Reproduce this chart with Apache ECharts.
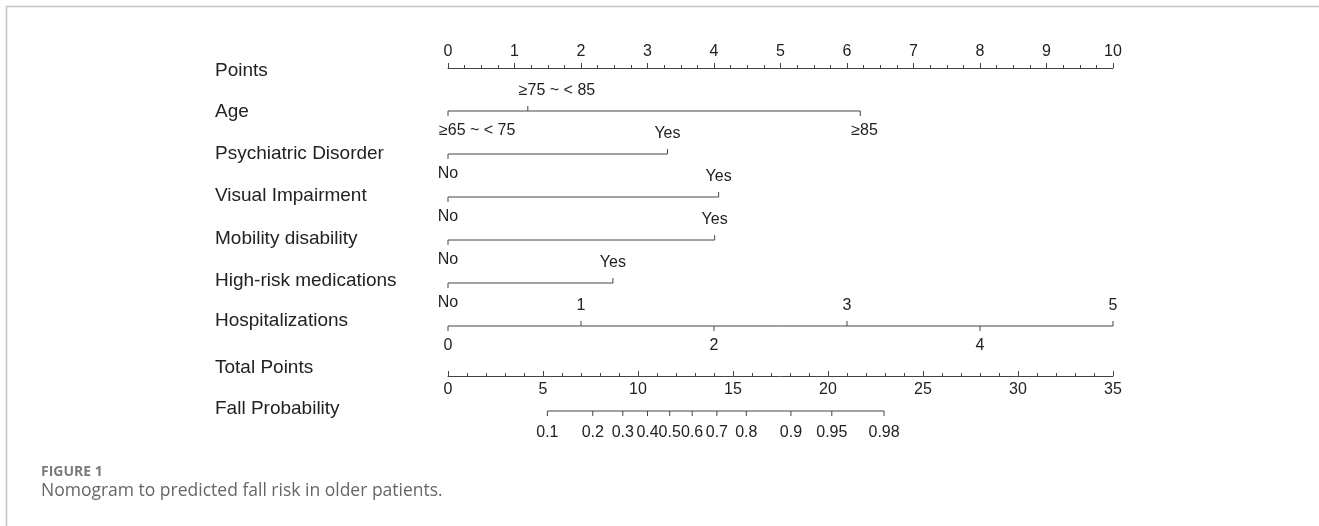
<!DOCTYPE html>
<html>
<head>
<meta charset="utf-8">
<style>
  html, body { margin: 0; padding: 0; background: #fff; }
  #chart { width: 1319px; height: 526px; }
</style>
<script src="https://cdn.jsdelivr.net/npm/echarts@6.0.0/dist/echarts.min.js"></script>
</head>
<body>
<div id="chart"></div>
<script>
// values (points scale 0-10)
var rowNames = ['Points', 'Age', 'Psychiatric Disorder', 'Visual Impairment', 'Mobility disability',
  'High-risk medications', 'Hospitalizations', 'Total Points', 'Fall Probability'];

var ageLevels = ['≥65 ~ < 75', '≥75 ~ < 85', '≥85'];
var agePoints = [0, 1.2, 6.2];
var psychLevels = ['No', 'Yes'];
var psychPoints = [0, 3.3];
var visualLevels = ['No', 'Yes'];
var visualPoints = [0, 4.07];
var mobilityLevels = ['No', 'Yes'];
var mobilityPoints = [0, 4.01];
var medsLevels = ['No', 'Yes'];
var medsPoints = [0, 2.48];
var hospLevels = ['0', '1', '2', '3', '4', '5'];
var hospPoints = [0, 2, 4, 6, 8, 10];

// fall probability ticks, placed on the total points scale
var probLabels = ['0.1', '0.2', '0.3', '0.4', '0.5', '0.6', '0.7', '0.8', '0.9', '0.95', '0.98'];
var probTotal = [5.23, 7.62, 9.2, 10.5, 11.67, 12.85, 14.15, 15.7, 18.05, 20.2, 22.95];

var factorRows = [
  { levels: ageLevels, points: agePoints, align: 'left' },
  { levels: psychLevels, points: psychPoints },
  { levels: visualLevels, points: visualPoints },
  { levels: mobilityLevels, points: mobilityPoints },
  { levels: medsLevels, points: medsPoints },
  { levels: hospLevels, points: hospPoints }
];

var lineColor = '#444';
var textColor = '#222';
var font = '"Liberation Sans", Arial, sans-serif';

var myChart = echarts.init(document.getElementById('chart'));

function txt(x, y, s, align) {
  return {
    type: 'text', x: x, y: y, silent: true,
    style: { text: s, fill: textColor, font: '16px ' + font, align: align || 'center', verticalAlign: 'middle' }
  };
}

function renderFactor(params, api) {
  var row = factorRows[params.dataIndex];
  var r = api.value(1);
  var pts = row.points;
  var p0 = api.coord([pts[0], r]);
  var p1 = api.coord([pts[pts.length - 1], r]);
  var children = [{
    type: 'line', shape: { x1: p0[0], y1: p0[1], x2: p1[0], y2: p1[1] },
    style: { stroke: lineColor, lineWidth: 1 }
  }];
  for (var i = 0; i < pts.length; i++) {
    var c = api.coord([pts[i], r]);
    var dir = i % 2 === 1 ? -1 : 1; // alternate: below / above
    children.push({
      type: 'line', shape: { x1: c[0], y1: c[1], x2: c[0], y2: c[1] + dir * 5 },
      style: { stroke: lineColor, lineWidth: 1 }
    });
    if (row.align === 'left') {
      children.push(txt(c[0] - 9, c[1] + dir * 20, row.levels[i], 'left'));
    } else {
      children.push(txt(c[0], c[1] + dir * 20, row.levels[i]));
    }
  }
  return { type: 'group', children: children };
}

function renderProb(params, api) {
  var a = api.coord([probTotal[0], 0]);
  var b = api.coord([probTotal[probTotal.length - 1], 0]);
  var children = [{
    type: 'line', shape: { x1: a[0], y1: a[1], x2: b[0], y2: b[1] },
    style: { stroke: lineColor, lineWidth: 1 }
  }];
  for (var i = 0; i < probTotal.length; i++) {
    var c = api.coord([probTotal[i], 0]);
    children.push({
      type: 'line', shape: { x1: c[0], y1: c[1], x2: c[0], y2: c[1] + 5 },
      style: { stroke: lineColor, lineWidth: 1 }
    });
    children.push(txt(c[0], c[1] + 22, probLabels[i]));
  }
  return { type: 'group', children: children };
}

var labelTops = [71, 112, 154, 196, 239, 281, 321, 368, 409];
var rowLabels = rowNames.map(function (name, i) {
  return {
    type: 'text', left: 215, top: labelTops[i] - 10,
    style: { text: name, fill: textColor, font: '19px ' + font }
  };
});

var axisCommon = {
  type: 'value',
  position: 'top',
  axisLine: { onZero: false, lineStyle: { color: lineColor, width: 1 } },
  axisTick: { length: 5, lineStyle: { color: lineColor } },
  minorTick: { show: true, length: 3, lineStyle: { color: lineColor } },
  splitLine: { show: false },
  minorSplitLine: { show: false },
  axisLabel: { color: textColor, fontSize: 16, fontFamily: font, showMinLabel: true, showMaxLabel: true }
};

option = {
  animation: false,
  backgroundColor: '#fff',
  grid: [
    { left: 448, width: 665, top: 68, height: 258 },
    { left: 448, width: 665, top: 376, height: 35 }
  ],
  xAxis: [
    echarts.util.merge({ gridIndex: 0, min: 0, max: 10, interval: 1,
      minorTick: { splitNumber: 4 }, axisLabel: { margin: 8 } }, axisCommon),
    echarts.util.merge({ gridIndex: 1, min: 0, max: 35, interval: 5,
      minorTick: { splitNumber: 5 }, axisLabel: { inside: true, margin: 6 } }, axisCommon)
  ],
  yAxis: [
    { gridIndex: 0, type: 'value', min: 0, max: 6, inverse: true, show: false },
    { gridIndex: 1, type: 'value', min: 0, max: 1, show: false }
  ],
  series: [
    {
      type: 'custom', xAxisIndex: 0, yAxisIndex: 0,
      data: factorRows.map(function (r, i) { return [0, i + 1]; }),
      encode: { x: 0, y: 1 },
      renderItem: renderFactor
    },
    {
      type: 'custom', xAxisIndex: 1, yAxisIndex: 1,
      data: [[0, 0]],
      encode: { x: 0, y: 1 },
      renderItem: renderProb
    }
  ],
  graphic: rowLabels.concat([
    { type: 'line', shape: { x1: 6, y1: 6.5, x2: 1319, y2: 6.5 }, style: { stroke: '#c4c4c4', lineWidth: 1.5 } },
    { type: 'line', shape: { x1: 6.5, y1: 6, x2: 6.5, y2: 526 }, style: { stroke: '#c4c4c4', lineWidth: 1.5 } },
    { type: 'text', left: 41, top: 465, style: { text: 'FIGURE 1', fill: '#7a7a7a', font: 'bold 14px "Open Sans", sans-serif' } },
    { type: 'text', left: 41, top: 482, style: { text: 'Nomogram to predicted fall risk in older patients.', fill: '#666', font: '17.5px "Open Sans", sans-serif' } }
  ])
};

myChart.setOption(option);

window.addEventListener('resize', function () {
  myChart.resize();
});
</script>
</body>
</html>
